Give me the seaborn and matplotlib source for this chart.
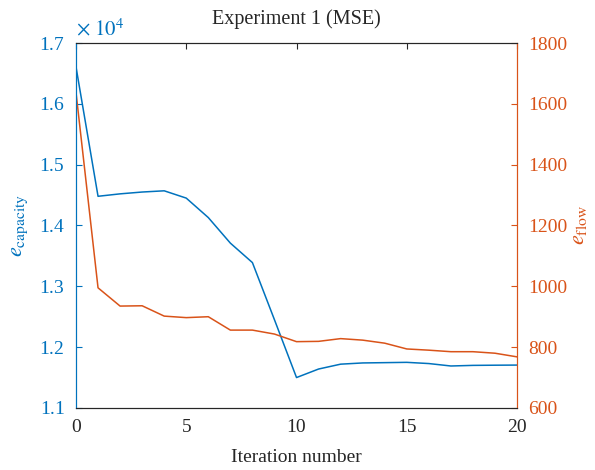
import numpy as np
import pandas as pd
import matplotlib
matplotlib.use("Agg")
import matplotlib.pyplot as plt
import seaborn as sns
from matplotlib.ticker import ScalarFormatter

iterations = list(range(21))
e_capacity = [16610, 14480, 14520, 14550, 14570, 14450, 14130, 13710, 13390, 12450,
              11500, 11640, 11720, 11740, 11745, 11750, 11730, 11690, 11700, 11703, 11705]
e_flow = [1638, 995, 935, 936, 902, 897, 900, 856, 856, 843,
          818, 819, 828, 823, 813, 794, 790, 785, 785, 780, 768]
x_ticks = [0, 5, 10, 15, 20]
left_ticks = [11000, 12000, 13000, 14000, 15000, 16000, 17000]
right_ticks = [600, 800, 1000, 1200, 1400, 1600, 1800]

blue = "#0072BD"
orange = "#D95319"
dark = "#262626"

sns.set_style("white")
plt.rcParams["font.family"] = ["Liberation Serif", "DejaVu Serif"]
plt.rcParams["mathtext.fontset"] = "stix"

df = pd.DataFrame({"iter": iterations, "cap": e_capacity, "flow": e_flow})

fig = plt.figure(figsize=(5.95, 4.7), dpi=100)
ax = fig.add_axes([0.1277, 0.132, 0.7413, 0.7765])
ax2 = ax.twinx()

sns.lineplot(data=df, x="iter", y="cap", ax=ax, color=blue, linewidth=1.1)
sns.lineplot(data=df, x="iter", y="flow", ax=ax2, color=orange, linewidth=1.1)

ax.set_xlim(0, 20)
ax.set_ylim(11000, 17000)
ax2.set_ylim(600, 1800)
ax.set_xticks(x_ticks)
ax.set_yticks(left_ticks)
ax2.set_yticks(right_ticks)

# scaled tick labels on the left axis, exponent shown as a separate label
fmt = ScalarFormatter(useMathText=True)
fmt.set_powerlimits((0, 0))
ax.yaxis.set_major_formatter(fmt)
ax.yaxis.get_offset_text().set_visible(False)
ax.text(0.0, 1.006, r"$\times\ 10^4$", transform=ax.transAxes, color=blue,
        fontsize=15, ha="left", va="bottom")

fs = 14
ax.tick_params(axis="x", which="both", direction="in", length=4, width=0.8,
               top=True, labelsize=fs, colors=dark, pad=8)
ax.tick_params(axis="y", direction="in", length=4, width=0.8,
               colors=blue, labelsize=fs, pad=8)
ax2.tick_params(axis="y", direction="in", length=4, width=0.8,
                colors=orange, labelsize=fs, pad=8)

for a in (ax, ax2):
    for s in a.spines.values():
        s.set_linewidth(0.8)
        s.set_visible(True)
    a.spines["top"].set_color(dark)
    a.spines["bottom"].set_color(dark)
    a.spines["left"].set_color(blue)
    a.spines["right"].set_color(orange)

ax.set_xlabel("Iteration number", fontsize=fs, color=dark, labelpad=9)
ax.set_ylabel(r"$e_{\mathrm{capacity}}$", fontsize=16, color=blue, labelpad=6)
ax2.set_ylabel(r"$e_{\mathrm{flow}}$", fontsize=16, color=orange, labelpad=2)
ax.set_title("Experiment 1 (MSE)", fontsize=14.5, color=dark, pad=14)

fig.savefig("out.png", dpi=100)
